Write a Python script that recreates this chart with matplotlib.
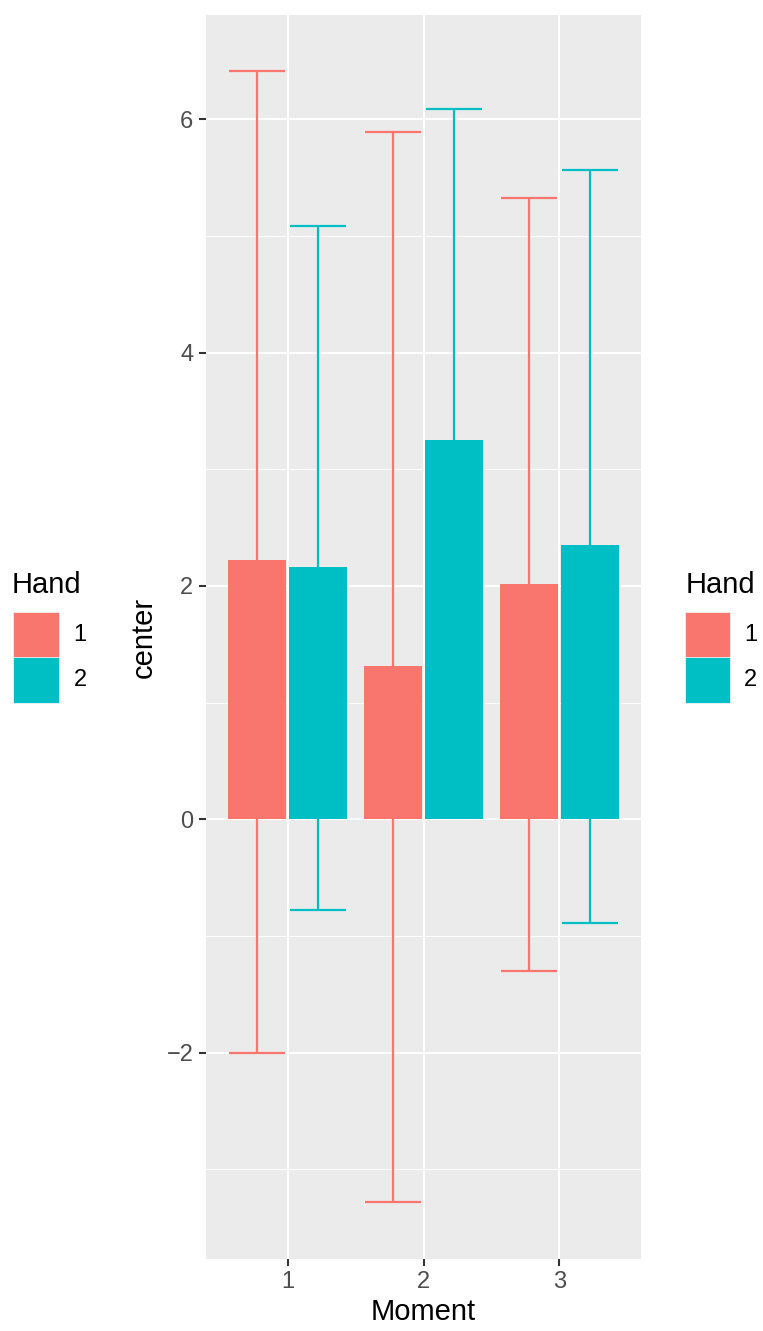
import matplotlib
matplotlib.use("Agg")
import matplotlib.pyplot as plt
from matplotlib.patches import Rectangle
import numpy as np

# ---- data ----
moments = [1, 2, 3]
hands = ["1", "2"]
center_h1 = [2.22, 1.31, 2.02]
center_h2 = [2.16, 3.25, 2.35]
lower_h1 = [-2.00, -3.28, -1.30]
upper_h1 = [6.41, 5.89, 5.32]
lower_h2 = [-0.78, 0.41, -0.89]
upper_h2 = [5.08, 6.09, 5.56]
y_ticks = [-2, 0, 2, 4, 6]
y_minor = [-3, -1, 1, 3, 5]

colors = ["#F8766D", "#00BFC4"]
W, H = 763, 1331
fig = plt.figure(figsize=(W / 100, H / 100), dpi=100)
plt.rcParams['font.family'] = ['Liberation Sans', 'DejaVu Sans']

L, R, T, B = 206, 641, 15, 1258.7
ax = fig.add_axes([L / W, 1 - B / H, (R - L) / W, (B - T) / H])
ax.set_facecolor("#EBEBEB")
for s in ax.spines.values():
    s.set_visible(False)

x = np.array(moments, dtype=float)
dodge = 0.225
bw = 0.43
cap = 0.205
series = [(center_h1, lower_h1, upper_h1), (center_h2, lower_h2, upper_h2)]
for i, (c, lo, hi) in enumerate(series):
    xs = x + (-dodge if i == 0 else dodge)
    ax.vlines(xs, lo, hi, color=colors[i], lw=1.6, zorder=2)
    ax.hlines(lo, xs - cap, xs + cap, color=colors[i], lw=1.6, zorder=2)
    ax.hlines(hi, xs - cap, xs + cap, color=colors[i], lw=1.6, zorder=2)
    ax.bar(xs, c, width=bw, color=colors[i], zorder=3)

ax.set_xlim(0.4, 3.6)
ax.set_ylim(-3.765, 6.892)
ax.set_xticks(moments)
ax.set_xticklabels([str(m) for m in moments])
ax.set_yticks(y_ticks)
ax.set_yticklabels([("\u2212" + str(-v)) if v < 0 else str(v) for v in y_ticks])
ax.set_yticks(y_minor, minor=True)
ax.grid(True, which="major", color="white", lw=1.5, zorder=0)
ax.grid(True, which="minor", axis="y", color="white", lw=0.75, zorder=0)
ax.set_axisbelow(True)
ax.tick_params(axis="both", which="major", length=5, width=1.5, color="#333333",
               labelcolor="#4D4D4D", labelsize=17, pad=4)
ax.tick_params(axis="both", which="minor", length=0)

fig.text(423.5 / W, 1 - 1312 / H, "Moment", ha="center", va="center", fontsize=21, color="black")
fig.text(144 / W, 1 - 637 / H, "center", ha="center", va="center", rotation=90, fontsize=21, color="black")

def legend(x0, title_x, label_x):
    fig.text(title_x / W, 1 - 585 / H, "Hand", ha="left", va="center", fontsize=21, color="black")
    ky = [611.7, 657.5]
    for j, h in enumerate(hands):
        fig.add_artist(Rectangle((x0 / W, 1 - (ky[j] + 45.8) / H), 45.8 / W, 45.8 / H,
                                 transform=fig.transFigure, facecolor=colors[j],
                                 edgecolor="#F2F2F2", lw=0.6))
        fig.text(label_x / W, 1 - (ky[j] + 22.9) / H, h, ha="center", va="center",
                 fontsize=17, color="black")

legend(12.7, 12.0, 80)
legend(684.5, 685.5, 750.5)

fig.savefig("out.png", dpi=100)
